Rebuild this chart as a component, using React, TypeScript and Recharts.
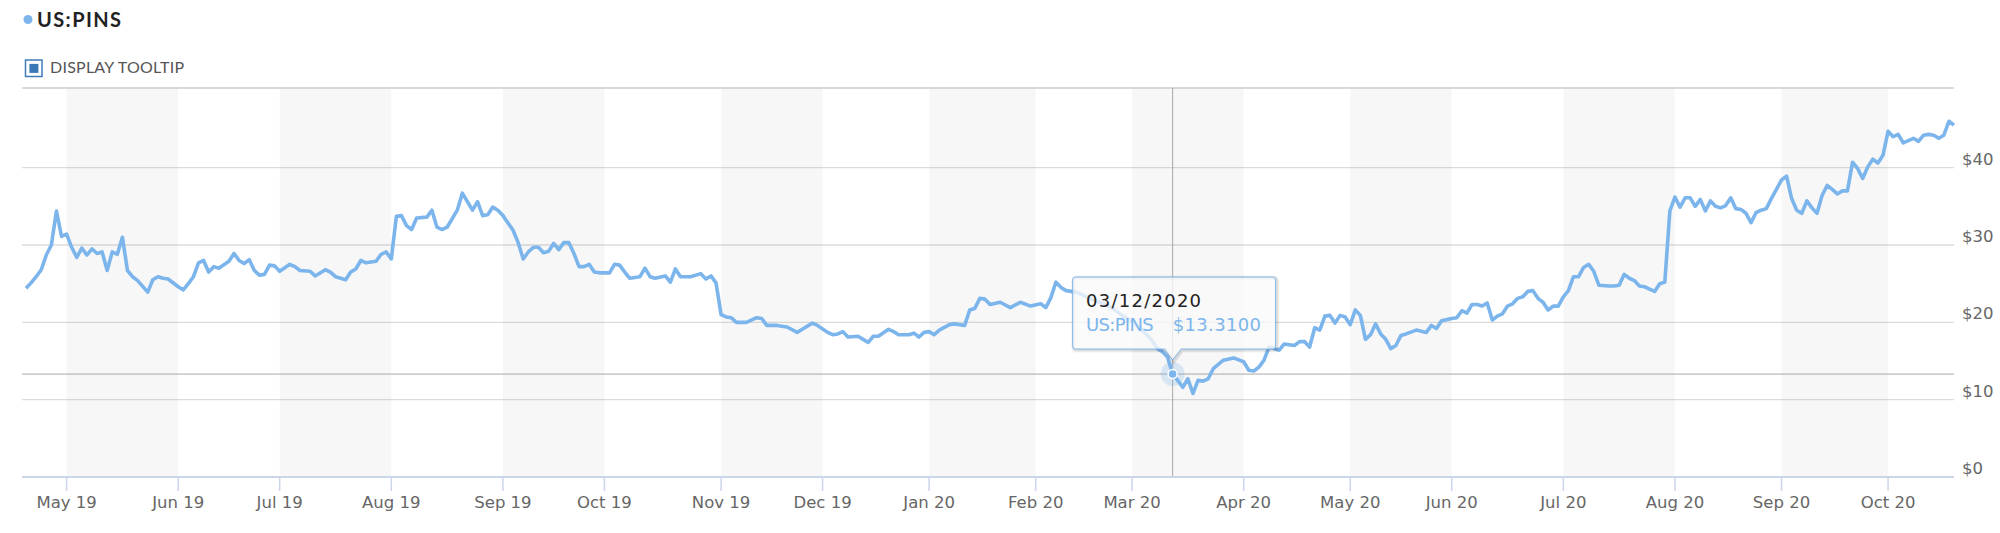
import React from "react";
import {
  LineChart,
  Line,
  XAxis,
  YAxis,
  CartesianGrid,
  ReferenceArea,
  ReferenceLine,
  ReferenceDot,
} from "recharts";

// Trading-session number since IPO day (Apr 18, 2019 = 0) and closing price
const dayIdx = [
  0, 1, 2, 3, 4, 5, 6, 7, 8, 9, 10, 11, 12, 13, 14, 15, 16, 17, 18, 19, 20, 21, 22, 24, 25, 26, 27, 28,
  30, 31, 32, 33, 34, 35, 36, 37, 38, 40, 41, 42, 43, 44, 45, 46, 47, 48, 49, 50, 52, 53, 54, 56, 57,
  59, 60, 61, 63, 64, 65, 66, 67, 69, 70, 71, 72, 73, 74, 75, 76, 77, 79, 80, 81, 82, 83, 85, 86, 88,
  89, 90, 91, 92, 93, 94, 96, 97, 98, 99, 100, 101, 102, 103, 104, 105, 106, 107, 108, 109, 110, 111,
  112, 113, 115, 116, 117, 118, 119, 121, 122, 123, 124, 126, 127, 128, 129, 131, 133, 134, 135, 136,
  137, 138, 139, 140, 142, 144, 145, 146, 148, 150, 152, 153, 155, 156, 158, 159, 160, 161, 162, 164,
  165, 166, 167, 168, 170, 171, 172, 174, 175, 176, 177, 178, 179, 180, 182, 183, 185, 186, 187, 188,
  189, 190, 192, 194, 196, 198, 200, 201, 202, 203, 204, 205, 206, 207, 208, 210, 212, 214, 216, 218,
  220, 222, 223, 224, 225, 226, 227, 228, 229, 230, 231, 232, 233, 234, 236, 238, 240, 241, 242, 243,
  244, 245, 246, 247, 248, 250, 251, 252, 253, 254, 255, 256, 257, 258, 259, 260, 261, 262, 263, 264,
  265, 266, 267, 268, 269, 270, 271, 272, 274, 276, 277, 278, 279, 281, 282, 283, 284, 285, 286, 287,
  288, 289, 290, 291, 292, 293, 294, 295, 296, 297, 298, 299, 300, 301, 302, 303, 304, 305, 306, 307,
  308, 309, 310, 312, 313, 314, 315, 316, 317, 318, 319, 320, 321, 322, 323, 324, 325, 326, 327, 328,
  329, 330, 331, 332, 333, 334, 335, 336, 337, 338, 339, 340, 341, 342, 343, 344, 346, 347, 348, 349,
  350, 351, 352, 353, 354, 355, 356, 357, 358, 359, 360, 361, 362, 363, 364, 365, 366, 367, 368, 369,
  370, 371, 372, 373, 374, 375, 376, 377, 378, 379, 380,
];

const price = [
  24.4, 25.1, 25.9, 26.8, 28.7, 30.0, 34.4, 31.1, 31.4, 29.7, 28.4, 29.6, 28.7, 29.5, 28.9, 29.1, 26.7, 29.1, 28.8, 31.0, 26.7, 25.9, 25.4, 23.9, 25.5, 25.9, 25.7, 25.6,
  24.6, 24.2, 25.0, 25.9, 27.7, 28.0, 26.5, 27.2, 27.0, 27.9, 28.9, 28.0, 27.6, 28.1, 26.7, 26.1, 26.2, 27.4, 27.3, 26.6, 27.5, 27.2, 26.7, 26.6, 26.0,
  26.8, 26.5, 25.9, 25.5, 26.5, 26.9, 28.0, 27.7, 27.9, 28.8, 29.1, 28.2, 33.7, 33.8, 32.5, 32.0, 33.5, 33.6, 34.5, 32.3, 32.0, 32.3, 34.5, 36.7, 34.5,
  35.6, 33.8, 33.9, 34.9, 34.5, 33.8, 31.9, 30.3, 28.2, 29.1, 29.7, 29.7, 29.0, 29.2, 30.2, 29.4, 30.3, 30.3, 28.9, 27.2, 27.2, 27.5,
  26.5, 26.4, 26.4, 27.5, 27.4, 26.5, 25.7, 25.9, 27.0, 25.9, 25.7, 26.0, 25.2, 26.9, 25.9, 25.9, 26.3, 25.6, 26.0, 25.1,
  21.0, 20.7, 20.6, 20.0, 20.0, 20.6, 20.5, 19.6, 19.6, 19.4, 18.7, 19.1, 19.9, 19.6, 18.7, 18.4, 18.5, 18.8, 18.1, 18.2,
  17.8, 17.4, 18.2, 18.2, 19.1, 18.8, 18.4, 18.4, 18.6, 18.1, 18.7, 18.8, 18.4, 19.0, 19.7, 19.8, 19.6, 21.6, 21.8, 23.1,
  23.0, 22.3, 22.6, 21.9, 22.6, 22.1, 22.4, 21.9, 23.2, 25.2, 24.5, 24.1, 24.0, 23.9, 23.6, 23.0, 22.5, 21.9, 20.9, 20.1,
  19.0, 17.6, 16.6, 16.2, 15.5, 13.31, 12.5, 11.6, 12.7, 10.8, 12.5, 12.4, 12.7, 14.0, 15.1, 15.4, 14.9, 13.8, 13.7, 14.2,
  15.1, 16.8, 16.6, 16.4, 17.2, 17.0, 17.5, 17.5, 16.8, 19.3, 19.0, 20.8, 20.9, 19.9, 20.9, 20.7, 19.7, 21.6, 20.9, 17.8,
  18.4, 19.8, 18.5, 17.8, 16.6, 17.0, 18.3, 18.5, 19.0, 18.7, 19.6, 19.2, 20.2, 20.5, 20.6, 21.5, 21.2, 22.3, 22.3, 22.1,
  22.5, 20.3, 20.8, 21.1, 22.1, 22.4, 23.1, 23.3, 24.0, 24.1, 23.1, 22.6, 21.6, 22.1, 22.1, 23.3, 24.1, 25.9, 25.9, 27.1,
  27.5, 26.6, 24.8, 24.7, 24.7, 24.8, 26.2, 25.7, 25.4, 24.7, 24.6, 24.3, 24.0, 25.0, 25.2, 34.4, 36.2, 34.9, 36.1, 36.1,
  35.0, 35.9, 34.4, 35.7, 35.0, 34.8, 35.1, 36.1, 34.7, 34.6, 34.1, 32.9, 34.2, 34.5, 34.7, 36.0, 38.4, 38.9, 36.0, 34.5,
  34.1, 35.7, 34.8, 34.1, 36.4, 37.7, 37.2, 36.6, 37.0, 37.0, 40.7, 39.9, 38.6, 40.1, 41.1, 40.6, 41.6, 44.7, 44.0, 44.3,
  43.2, 43.5, 43.8, 43.4, 44.2, 44.3, 44.2, 43.8, 44.2, 46.0, 45.5,
];

// first session of each month and its label
const monthStartIdx = [8, 30, 50, 72, 94, 114, 137, 157, 178, 199, 218, 240, 261, 281, 303, 325, 346, 367];
const monthLabels = [
  "May 19", "Jun 19", "Jul 19", "Aug 19", "Sep 19", "Oct 19", "Nov 19", "Dec 19", "Jan 20",
  "Feb 20", "Mar 20", "Apr 20", "May 20", "Jun 20", "Jul 20", "Aug 20", "Sep 20", "Oct 20",
];
// shaded months: [start, end) session numbers
const bandStarts = [8, 50, 94, 137, 178, 218, 261, 303, 346];
const bandEnds = [30, 72, 114, 157, 199, 240, 281, 325, 367];

const yTicks = [0, 10, 20, 30, 40];
const yMax = 50.3;

const hoverIdx = 226;
const hoverPrice = 13.31;
const hoverDate = "03/12/2020";
const seriesName = "US:PINS";

const data = dayIdx.map((i, k) => ({ i, v: price[k] }));

const LINE = "#7cb5ec";
const FONT = "'DejaVu Sans', sans-serif";

const YTick = (props: any) => {
  const { x, y, payload } = props;
  return (
    <text x={x} y={y - 3} fill="#666" fontSize={16.5} fontFamily={FONT} textAnchor="start">
      {`$${payload.value}`}
    </text>
  );
};

const HoverShape = (props: any) => {
  const { cx, cy } = props;
  if (cx == null || cy == null) return null;
  const L = cx - 100;
  const R = cx + 103;
  const T = cy - 97;
  const B = cy - 25;
  const tipY = cy - 14;
  const r = 3;
  const box = `M ${L + r} ${T} H ${R - r} Q ${R} ${T} ${R} ${T + r} V ${B - r} Q ${R} ${B} ${R - r} ${B} H ${cx + 8.5} L ${cx} ${tipY} L ${cx - 8} ${B} H ${L + r} Q ${L} ${B} ${L} ${B - r} V ${T + r} Q ${L} ${T} ${L + r} ${T} Z`;
  return (
    <g>
      <circle cx={cx} cy={cy} r={12} fill={LINE} fillOpacity={0.25} />
      <circle cx={cx} cy={cy} r={4.5} fill={LINE} stroke="#fff" strokeWidth={1.5} />
      <path d={box} fill="none" stroke="rgba(0,0,0,0.05)" strokeWidth={5} transform="translate(1,1)" />
      <path d={box} fill="none" stroke="rgba(0,0,0,0.08)" strokeWidth={3} transform="translate(1,1)" />
      <path d={box} fill="rgba(250,250,250,0.78)" stroke={LINE} strokeWidth={1} />
      <text
        x={cx - 86.6}
        y={cy - 66.6}
        fontFamily={FONT}
        fontSize={18}
        fill="#222"
        textLength={115}
        lengthAdjust="spacing"
      >
        {hoverDate}
      </text>
      <text
        x={cx - 86.6}
        y={cy - 43.3}
        fontFamily={FONT}
        fontSize={18}
        fill={LINE}
        textLength={67.6}
        lengthAdjust="spacing"
      >
        {seriesName}
      </text>
      <text
        x={cx}
        y={cy - 43.3}
        fontFamily={FONT}
        fontSize={18}
        fill={LINE}
        textLength={88.4}
        lengthAdjust="spacing"
      >
        {`$${hoverPrice.toFixed(4)}`}
      </text>
    </g>
  );
};

export default function App() {
  return (
    <div style={{ position: "absolute", left: 0, top: 0, width: 2000, height: 533, background: "#fff" }}>
      <LineChart
        width={2000}
        height={533}
        data={data}
        margin={{ top: 88, right: 0, bottom: 26, left: 22 }}
      >
        {bandStarts.map((s, k) => (
          <ReferenceArea
            key={`band-${k}`}
            x1={s}
            x2={bandEnds[k]}
            fill="#000"
            fillOpacity={0.032}
            stroke="none"
            ifOverflow="extendDomain"
          />
        ))}
        <CartesianGrid vertical={false} stroke="#dcdcdc" strokeWidth={1.3} />
        <ReferenceLine y={yMax} stroke="#d4d4d4" strokeWidth={1.5} />
        <XAxis
          dataKey="i"
          type="number"
          domain={[0, 380]}
          ticks={monthStartIdx}
          interval={0}
          padding={{ left: 4, right: 0 }}
          tickFormatter={(v: number) => monthLabels[monthStartIdx.indexOf(v)] ?? ""}
          tick={{ fill: "#666", fontSize: 16.5, fontFamily: FONT }}
          tickSize={14}
          tickMargin={5}
          tickLine={{ stroke: "#ccd6eb", strokeWidth: 1.5 }}
          axisLine={{ stroke: "#ccd6eb", strokeWidth: 2 }}
          height={30}
        />
        <YAxis
          orientation="right"
          type="number"
          domain={[0, yMax]}
          ticks={yTicks}
          width={46}
          axisLine={false}
          tickLine={false}
          tickSize={0}
          tickMargin={8}
          tick={<YTick />}
          allowDataOverflow
        />
        <ReferenceLine x={hoverIdx} stroke="#a8a8a8" strokeWidth={1} />
        <ReferenceLine y={hoverPrice} stroke="#a8a8a8" strokeWidth={1} />
        <Line
          type="linear"
          dataKey="v"
          stroke={LINE}
          strokeWidth={3.6}
          dot={false}
          activeDot={false}
          isAnimationActive={false}
          strokeLinejoin="round"
        />
        <ReferenceDot x={hoverIdx} y={hoverPrice} r={5} shape={<HoverShape />} ifOverflow="visible" />
      </LineChart>
      <svg
        width={400}
        height={90}
        style={{ position: "absolute", left: 0, top: 0, pointerEvents: "none" }}
      >
        <circle cx={28} cy={19.5} r={4.5} fill={LINE} />
        <text
          x={37}
          y={27}
          fontFamily="Lato, 'Open Sans', sans-serif"
          fontWeight={700}
          fontSize={20}
          fill="#222"
          textLength={84}
          lengthAdjust="spacing"
        >
          {seriesName}
        </text>
        <rect x={25.5} y={60} width={16.5} height={16.5} fill="#fff" stroke="#3f7cba" strokeWidth={1.5} />
        <rect x={29.4} y={63.9} width={9} height={9} fill="#3b78b6" />
        <text
          x={50}
          y={73.3}
          fontFamily="Lato, 'Open Sans', sans-serif"
          fontSize={16}
          fill="#555"
          textLength={134}
          lengthAdjust="spacing"
        >
          DISPLAY TOOLTIP
        </text>
      </svg>
    </div>
  );
}
